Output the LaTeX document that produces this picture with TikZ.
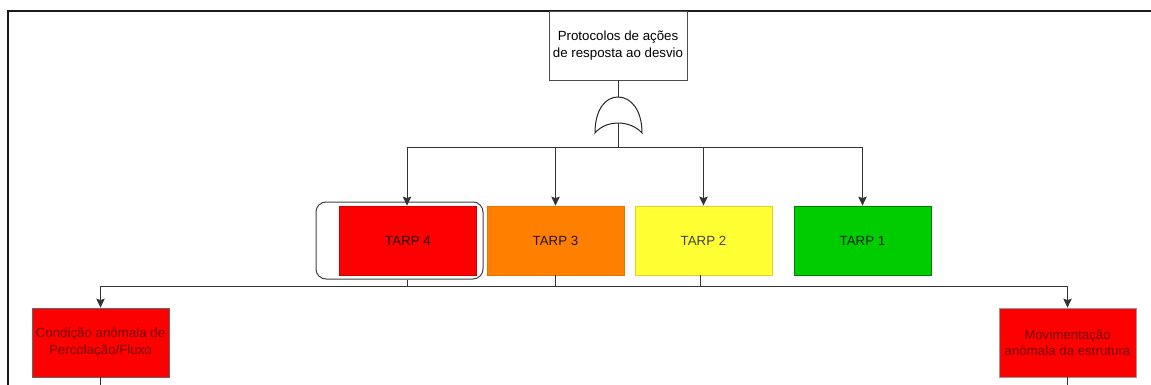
\documentclass[tikz,border=0pt]{standalone}
\usepackage{fontspec}
\setmainfont{Liberation Sans}
\usetikzlibrary{arrows.meta}
\definecolor{tarpred}{HTML}{FF0000}
\definecolor{tarporange}{HTML}{FF8000}
\definecolor{tarpyellow}{HTML}{FFFF33}
\definecolor{tarpgreen}{HTML}{00CC00}
\definecolor{linegray}{HTML}{333333}
\tikzset{
  px/.style={x=1pt,y=-1pt},
  box/.style={draw, minimum width=137pt, minimum height=69pt, inner sep=0pt, align=center,
    font=\fontsize{13.3}{16.5}\selectfont, line width=0.8pt},
  conn/.style={draw=linegray, line width=1pt},
  arr/.style={conn, -{Stealth[length=9pt,width=8.5pt,inset=1.5pt]}},
}
\begin{document}
\begin{tikzpicture}[px]
\useasboundingbox (0,0) rectangle (1151,385);
% frame
\draw[line width=1.8pt, black!90] (8,385) -- (8,11) -- (1151,11);
% top box
\node[box, draw=black!70, fill=white, minimum width=138pt, minimum height=69pt] (top) at (618,45.5) {Protocolos de ações\\de resposta ao desvio};
% TARP boxes
\node[box, fill=tarpred, draw=red!80!black, text=black!85!red] (t4) at (408,240.5) {TARP 4};
\node[draw=black!75, rounded corners=10pt, line width=1pt, minimum width=167pt, minimum height=77pt, inner sep=0pt] (t4f) at (399.5,240.5) {};
\node[box, fill=tarporange, draw=orange!90!black, text=black!85!orange] (t3) at (555.5,240.5) {TARP 3};
\node[box, fill=tarpyellow, draw=yellow!60!brown, text=black!85!yellow] (t2) at (703.5,240.5) {TARP 2};
\node[box, fill=tarpgreen, draw=green!50!black, text=black!85!green] (t1) at (862.5,240.5) {TARP 1};
% bottom boxes
\node[box, fill=tarpred, draw=black!60, text=red!45!black] (c1) at (100.5,342.5) {Condição anômala de\\Percolação/Fluxo};
\node[box, fill=tarpred, draw=black!40, text=red!45!black] (c2) at (1067.5,342.5) {Movimentação\\anômala da estrutura};
% coordinates
\coordinate (g) at (618,148);
\coordinate (busT3) at (555.5,286);
\coordinate (busT2) at (700,286);
\coordinate (busT4) at (407,286);
\coordinate (e1) at (100.5,385);
\coordinate (e2) at (1067.5,385);
% top connectors
\draw[conn] (top.south) -- (g);
\draw[arr] (g) -| (t4.north -| busT4);
\draw[arr] (g) -| (t3.north);
\draw[arr] (g) -| (t2.north);
\draw[arr] (g) -| (t1.north);
% OR gate
\draw[line width=1pt, draw=black!85, fill=white]
  (595,133) .. controls (595,110) and (605,97) .. (618,97)
  .. controls (631,97) and (642,110) .. (642,133)
  .. controls (630,119.7) and (606,119.7) .. (595,133) -- cycle;
% bottom bus
\draw[conn] (t4f.south -| busT4) -- (busT4);
\draw[conn] (t3.south) -- (busT3);
\draw[conn] (t2.south -| busT2) -- (busT2);
\draw[conn] (busT4) -- (busT2);
\draw[arr] (busT4) -| (c1.north);
\draw[arr] (busT2) -| (c2.north);
\draw[conn] (c1.south) -- (e1);
\draw[conn] (c2.south) -- (e2);
\end{tikzpicture}
\end{document}
